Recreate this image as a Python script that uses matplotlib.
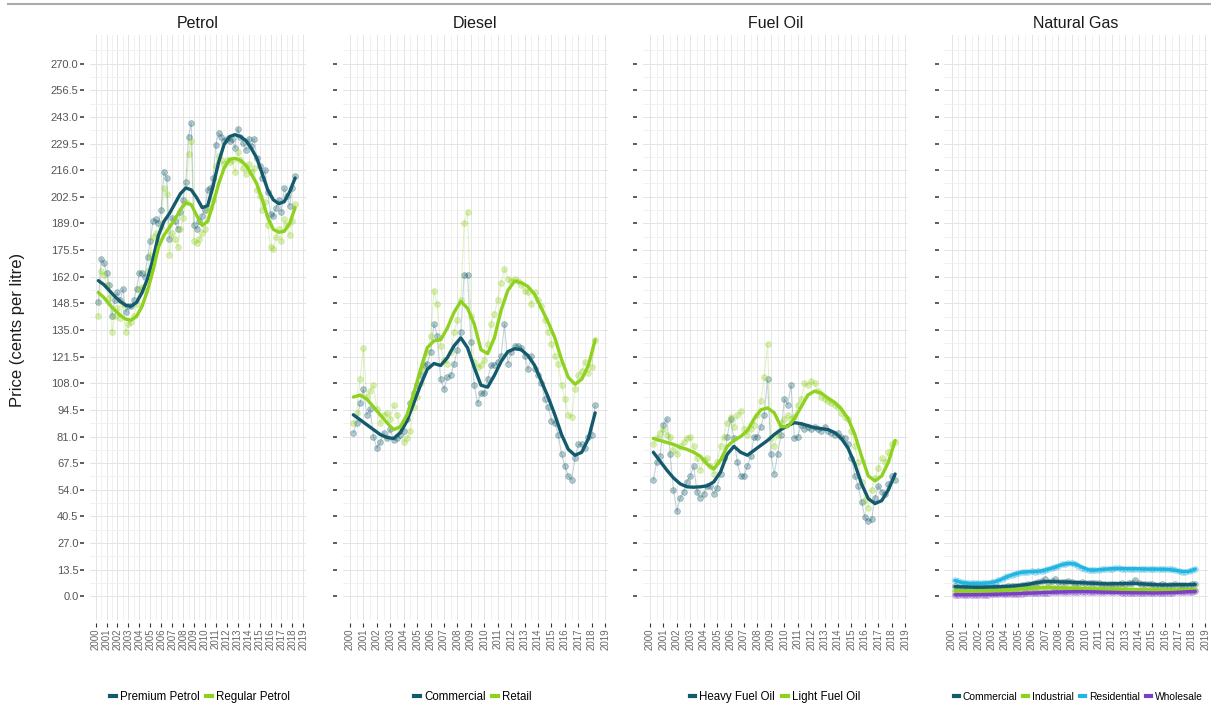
import numpy as np
import matplotlib
matplotlib.use("Agg")
import matplotlib.pyplot as plt
from matplotlib.lines import Line2D

plt.rcParams["font.family"] = ["Liberation Sans", "DejaVu Sans"]

W, H = 1211, 710

# quarterly observations, 2000 Q1 .. 2018 Q1 (plotted at quarter end)
quarters = 2000.25 + 0.25 * np.arange(73)
# smoothed curve read every half year
halfyears = 2000.25 + 0.5 * np.arange(37)

years = list(range(2000, 2020))
ytick_vals = [13.5 * i for i in range(21)]

# ---- Petrol ----
premium_petrol = [149, 171, 169, 164, 158, 142, 150, 154, 150, 156, 144, 147, 147, 150, 156, 164,
                  164, 162, 172, 180, 190, 191, 189, 196, 215, 212, 181, 192, 190, 186, 195, 201,
                  210, 233, 240, 188, 186, 190, 193, 196, 206, 207, 212, 229, 235, 233, 231, 232,
                  231, 232, 227, 237, 233, 230, 226, 232, 228, 232, 222, 218, 212, 216, 205, 194,
                  193, 197, 201, 195, 207, 203, 198, 207, 213]
regular_petrol = [142, 165, 163, 158, 151, 134, 142, 146, 141, 148, 134, 138, 139, 142, 148, 156,
                  157, 155, 165, 173, 182, 184, 180, 187, 207, 204, 173, 184, 181, 177, 186, 192,
                  200, 224, 231, 180, 179, 181, 184, 186, 196, 197, 201, 218, 223, 221, 219, 221,
                  220, 221, 215, 225, 221, 217, 214, 219, 215, 217, 206, 203, 196, 200, 188, 177,
                  176, 182, 186, 180, 191, 188, 183, 190, 199]
premium_petrol_smooth = [160, 158, 155, 152, 149.5, 147.5, 147, 149, 154, 161, 171, 183, 190, 194,
                         199, 204, 207, 206, 202, 197, 198, 208, 220, 229, 233, 234, 233, 231, 227,
                         222, 214, 206, 201, 199, 200, 205, 212]
regular_petrol_smooth = [154, 151.5, 148, 145, 142.5, 140.5, 140, 142, 147, 155, 165, 177, 183, 187,
                         191, 196, 199.5, 198.5, 193, 188, 190, 199, 209, 217, 221.5, 222, 221, 218.5,
                         214, 209, 201, 192, 186, 184.5, 185, 189, 197]

# ---- Diesel ----
diesel_commercial = [83, 88, 98, 105, 92, 95, 81, 75, 78, 83, 80, 85, 79, 80, 82, 84,
                     90, 98, 103, 107, 112, 117, 118, 124, 138, 132, 110, 105, 111, 112, 118, 125,
                     134, 163, 163, 129, 107, 98, 103, 103, 110, 117, 117, 119, 122, 138, 118, 124,
                     127, 127, 126, 122, 115, 122, 115, 112, 108, 100, 96, 89, 88, 82, 72, 66,
                     61, 59, 70, 77, 77, 75, 81, 82, 97]
diesel_retail = [88, 93, 110, 126, 101, 104, 107, 95, 88, 92, 93, 90, 97, 92, 85, 78,
                 80, 84, 96, 101, 108, 115, 124, 132, 155, 148, 127, 120, 118, 124, 134, 140,
                 150, 189, 195, 142, 119, 116, 117, 120, 128, 138, 143, 150, 159, 166, 161, 160,
                 161, 160, 158, 155, 154, 148, 154, 150, 147, 140, 134, 128, 122, 118, 107, 100,
                 92, 91, 105, 112, 114, 119, 113, 116, 130]
diesel_commercial_smooth = [92, 89.5, 87, 84.5, 82, 80.5, 80, 83, 89, 98, 107, 115, 118, 117, 121,
                            127, 131, 126, 116, 107, 106, 112, 119, 124, 125.5, 125, 122, 117, 109,
                            101, 92, 82, 74.5, 71.5, 73, 80, 93]
diesel_retail_smooth = [101, 102, 100, 96, 92, 88, 84.5, 86, 92, 103, 115, 126, 129.5, 130, 136,
                        144, 149.5, 146, 138, 125, 123, 131, 145, 155, 159.8, 159, 157, 153, 146,
                        139, 131, 120, 111, 107.5, 110, 117, 130]

# ---- Fuel Oil ----
heavy_fuel_oil = [59, 68, 71, 87, 90, 72, 54, 43, 50, 53, 58, 61, 66, 53, 50, 52,
                  56, 56, 52, 55, 62, 70, 81, 90, 80, 68, 61, 61, 66, 71, 81, 81,
                  86, 92, 110, 72, 62, 72, 82, 100, 97, 107, 80, 81, 87, 85, 86, 85,
                  86, 85, 84, 86, 84, 83, 82, 83, 81, 80, 77, 70, 61, 56, 48, 40,
                  38, 39, 50, 56, 53, 52, 57, 61, 59]
light_fuel_oil = [77, 80, 83, 85, 82, 81, 74, 72, 76, 78, 80, 81, 76, 70, 64, 69,
                  70, 66, 62, 68, 76, 81, 88, 91, 86, 92, 94, 85, 82, 85, 87, 92,
                  99, 111, 128, 80, 76, 82, 88, 90, 92, 90, 91, 97, 100, 108, 107, 109,
                  108, 104, 101, 100, 99, 98, 97, 96, 93, 91, 90, 84, 76, 68, 58, 49,
                  45, 54, 60, 65, 70, 68, 73, 77, 78]
heavy_fuel_oil_smooth = [73, 68.5, 64, 60, 57, 55.5, 55.3, 55.5, 56, 58, 63, 72, 76, 73, 71.5, 74,
                         76.5, 79, 82, 84.5, 86.5, 88, 87.5, 86.5, 85.5, 85, 84.5, 83, 80, 75, 67,
                         57, 49.5, 47, 48.5, 54, 62]
light_fuel_oil_smooth = [80, 79, 78, 77, 75.5, 74.5, 73, 71, 67, 64.5, 69, 76, 79, 81, 84, 90,
                         94.5, 95.5, 93, 86, 86, 90, 96, 102, 104, 103, 100.5, 98.3, 95, 90, 82,
                         71, 61, 58.5, 61, 68, 79]

# ---- Natural Gas ----
gas_commercial = [5.0, 4.9, 4.8, 4.8, 4.7, 4.7, 4.6, 4.6, 4.6, 4.6, 4.7, 4.7, 4.8, 4.8, 4.9, 4.9,
                  5.0, 5.1, 5.2, 5.4, 5.6, 5.8, 6.0, 6.4, 6.8, 7.2, 7.8, 8.6, 7.5, 7.6, 8.9, 7.4,
                  7.2, 7.3, 7.9, 7.2, 7.0, 6.9, 7.1, 6.8, 6.6, 6.6, 6.9, 6.5, 6.4, 6.3, 6.4, 6.3,
                  6.3, 6.4, 6.5, 6.4, 6.5, 6.6, 8.3, 6.6, 6.4, 6.3, 6.2, 6.0, 5.9, 5.8, 6.0, 5.8,
                  5.7, 5.8, 6.1, 5.9, 5.8, 5.9, 5.9, 6.0, 6.0]
gas_industrial = [2.8, 2.7, 2.7, 2.6, 2.6, 2.6, 2.6, 2.6, 2.6, 2.7, 2.7, 2.7, 2.8, 2.8, 2.9, 3.0,
                  3.1, 3.2, 3.3, 3.5, 3.6, 3.8, 3.9, 4.1, 4.2, 4.3, 4.4, 4.4, 4.5, 4.5, 4.4, 4.4,
                  4.3, 4.3, 4.2, 4.2, 4.1, 4.0, 4.0, 3.9, 3.9, 3.8, 3.8, 3.8, 3.7, 3.7, 3.7, 3.6,
                  3.6, 3.6, 3.5, 3.5, 3.5, 3.4, 3.4, 3.4, 3.4, 3.3, 3.3, 3.3, 3.3, 3.3, 3.3, 3.2,
                  3.2, 3.2, 3.2, 3.2, 3.3, 3.3, 3.3, 3.4, 3.4]
gas_residential = [8.5, 7.6, 7.2, 6.9, 6.7, 6.5, 6.5, 6.5, 6.6, 6.7, 6.8, 7.1, 7.5, 8.2, 8.9, 9.6,
                   10.3, 11.0, 11.5, 11.9, 12.2, 12.4, 12.5, 12.6, 12.5, 12.6, 13.0, 13.5, 14.0, 14.5,
                   15.0, 15.6, 16.2, 16.6, 16.8, 16.9, 16.5, 15.6, 14.6, 13.8, 13.3, 13.2, 13.3, 13.5,
                   13.7, 13.8, 14.0, 14.1, 14.2, 14.2, 14.1, 14.1, 14.0, 14.0, 14.0, 13.9, 13.9, 13.8,
                   13.8, 13.8, 13.8, 13.8, 13.7, 13.7, 13.7, 13.6, 13.3, 12.8, 12.5, 12.4, 12.6, 13.2,
                   14.0]
gas_wholesale = [0.8, 0.8, 0.8, 0.8, 0.8, 0.8, 0.8, 0.9, 0.9, 0.9, 0.9, 1.0, 1.0, 1.0, 1.1, 1.1,
                 1.2, 1.2, 1.3, 1.3, 1.4, 1.5, 1.5, 1.6, 1.7, 1.7, 1.8, 1.9, 1.9, 2.0, 2.1, 2.1,
                 2.2, 2.2, 2.3, 2.3, 2.4, 2.4, 2.4, 2.4, 2.4, 2.3, 2.3, 2.2, 2.2, 2.1, 2.1, 2.0,
                 2.0, 2.0, 1.9, 1.9, 1.9, 1.8, 1.8, 1.8, 1.8, 1.8, 1.7, 1.7, 1.7, 1.8, 1.8, 1.8,
                 1.9, 1.9, 2.0, 2.1, 2.2, 2.3, 2.4, 2.4, 2.5]
gas_commercial_smooth = [4.9, 4.8, 4.7, 4.6, 4.6, 4.7, 4.8, 4.9, 5.1, 5.3, 5.7, 6.1, 6.8, 7.3, 7.5,
                         7.4, 7.3, 7.2, 7.0, 6.9, 6.7, 6.6, 6.4, 6.3, 6.4, 6.4, 6.5, 6.5, 6.3, 6.1,
                         5.9, 5.8, 5.8, 5.9, 5.9, 5.9, 6.0]
gas_industrial_smooth = [2.8, 2.65, 2.6, 2.6, 2.65, 2.7, 2.8, 2.95, 3.15, 3.4, 3.7, 4.0, 4.25, 4.4,
                         4.5, 4.4, 4.3, 4.2, 4.05, 3.95, 3.85, 3.8, 3.7, 3.65, 3.6, 3.5, 3.45, 3.4,
                         3.35, 3.3, 3.3, 3.25, 3.2, 3.2, 3.3, 3.35, 3.4]
gas_residential_smooth = [8.0, 7.0, 6.6, 6.5, 6.6, 6.8, 7.4, 8.7, 10.2, 11.4, 12.2, 12.5, 12.6, 12.9,
                          13.8, 14.8, 16.0, 16.7, 16.4, 14.8, 13.4, 13.3, 13.6, 13.9, 14.1, 14.1, 14.0,
                          14.0, 13.9, 13.8, 13.8, 13.7, 13.6, 13.2, 12.6, 12.6, 13.8]
gas_wholesale_smooth = [0.8, 0.8, 0.8, 0.85, 0.9, 0.95, 1.0, 1.1, 1.2, 1.3, 1.45, 1.6, 1.7, 1.85,
                        2.0, 2.1, 2.2, 2.3, 2.4, 2.4, 2.35, 2.25, 2.15, 2.05, 2.0, 1.9, 1.85, 1.8,
                        1.8, 1.75, 1.7, 1.8, 1.85, 1.95, 2.15, 2.35, 2.5]

teal = "#135b6c"
lime = "#8fd11f"
cyan = "#22b5e2"
purple = "#7b3fc4"

# title, panel left/right (px), legend centre (px), legend font size, series
panels = [
    ("Petrol", 89.6, 305.5, 200, 8.3, [
        ("Premium Petrol", teal, premium_petrol, premium_petrol_smooth),
        ("Regular Petrol", lime, regular_petrol, regular_petrol_smooth)]),
    ("Diesel", 342.6, 607.9, 473, 8.3, [
        ("Commercial", teal, diesel_commercial, diesel_commercial_smooth),
        ("Retail", lime, diesel_retail, diesel_retail_smooth)]),
    ("Fuel Oil", 642.6, 907.9, 775, 8.3, [
        ("Heavy Fuel Oil", teal, heavy_fuel_oil, heavy_fuel_oil_smooth),
        ("Light Fuel Oil", lime, light_fuel_oil, light_fuel_oil_smooth)]),
    ("Natural Gas", 944.3, 1208.0, 1078, 7.4, [
        ("Commercial", teal, gas_commercial, gas_commercial_smooth),
        ("Industrial", lime, gas_industrial, gas_industrial_smooth),
        ("Residential", cyan, gas_residential, gas_residential_smooth),
        ("Wholesale", purple, gas_wholesale, gas_wholesale_smooth)]),
]

fig = plt.figure(figsize=(W / 100, H / 100), dpi=100)
top_px, bottom_px = 35, 620

for n, (title, left_px, right_px, leg_x, leg_fs, series) in enumerate(panels):
    ax = fig.add_axes([left_px / W, 1 - bottom_px / H, (right_px - left_px) / W, (bottom_px - top_px) / H])
    # spines first: moving them resets the tick objects
    for s in ax.spines.values():
        s.set_visible(False)
    ax.spines["left"].set_position(("outward", 4))
    ax.spines["bottom"].set_position(("outward", 2))

    for label, color, raw, smooth in series:
        ax.plot(quarters, raw, color=color, lw=0.8, alpha=0.25, zorder=2)
        ax.plot(quarters, raw, ls="none", marker="o", ms=4.2, mfc=color, mec=color,
                mew=0.6, alpha=0.32, zorder=2)
        ax.plot(halfyears, smooth, color=color, lw=2.4, zorder=3, solid_capstyle="round")

    ax.set_xlim(1999.45, 2019.2)
    ax.set_ylim(-12, 284.5)
    ax.set_xticks(years)
    ax.set_xticks([y + 0.5 for y in years[:-1]], minor=True)
    ax.set_yticks(ytick_vals)
    ax.set_yticks([v + 6.75 for v in ytick_vals], minor=True)
    ax.set_xticklabels([str(y) for y in years], fontsize=7, color="#666666")
    if n == 0:
        ax.set_yticklabels(["%.1f" % v for v in ytick_vals], fontsize=8, color="#555555")
    else:
        ax.set_yticklabels([])
    ax.grid(which="major", color="#e4e4e4", lw=0.7)
    ax.grid(which="minor", color="#efefef", lw=0.6)
    ax.set_axisbelow(True)
    ax.tick_params(axis="y", which="major", length=3, width=1.1, color="#333333", pad=1)
    ax.tick_params(axis="x", which="major", length=3, width=0.8, color="#333333", pad=1,
                   labelrotation=90)
    ax.tick_params(which="minor", length=0)
    ax.set_title(title, fontsize=11.5, color="#1a1a1a", pad=5)

    handles = [Line2D([0], [0], color=c, lw=3) for _, c, _, _ in series]
    names = [lab for lab, _, _, _ in series]
    fig.legend(handles, names, loc="center", bbox_to_anchor=(leg_x / W, 1 - 697 / H),
               ncol=len(series), frameon=False, fontsize=leg_fs, handlelength=0.5,
               handletextpad=0.35, columnspacing=0.6)

fig.text(18 / W, 1 - 330 / H, "Price (cents per litre)", rotation=90, ha="center", va="center",
         fontsize=12, color="#1a1a1a")
fig.add_artist(Line2D([8 / W, 1.0], [1 - 4 / H, 1 - 4 / H], color="#aaaaaa", lw=1.5))

fig.savefig("out.png", dpi=100)
